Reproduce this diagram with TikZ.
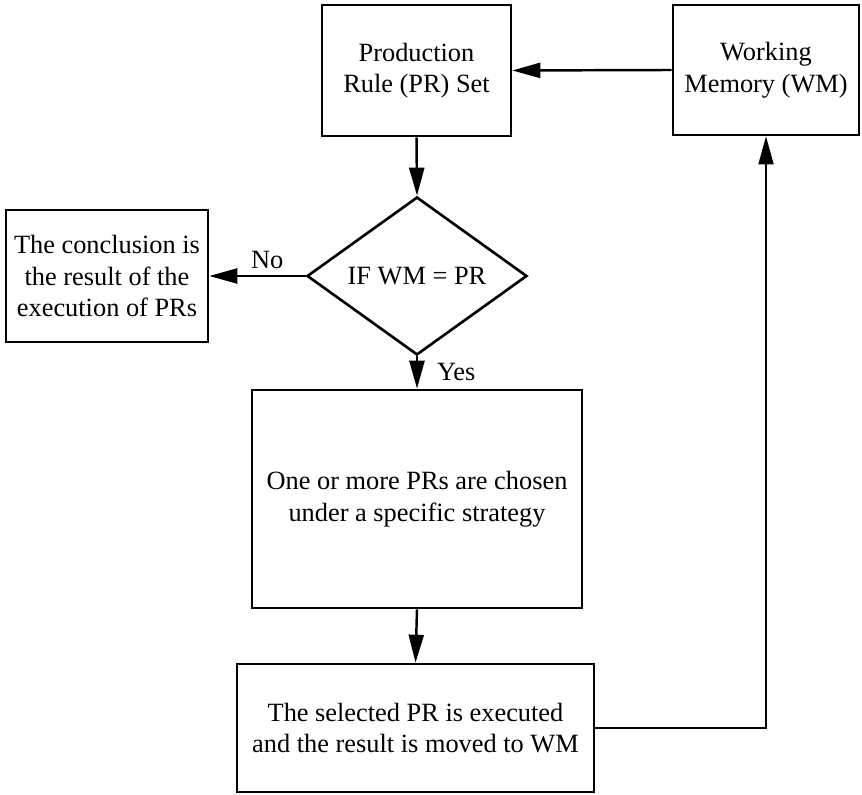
\documentclass[tikz,border=0pt]{standalone}
\usepackage{fontspec}
\setmainfont{Liberation Serif}
\usetikzlibrary{shapes.geometric,arrows.meta}

\begin{document}
\begin{tikzpicture}[
    every node/.style={font=\fontsize{15}{18}\selectfont, align=center},
    box/.style={draw=black, line width=1.5pt, inner sep=0pt},
    decision/.style={draw=black, line width=1.5pt, diamond, aspect=1.4, inner sep=0pt},
    flow/.style={line width=1.4pt},
    >={Triangle[length=0.56cm, width=0.3cm]},
]

\useasboundingbox (0,0) rectangle (17.24,15.88);

% === Top row: rule set and working memory ===
\node[box, minimum width=3.78cm, minimum height=2.62cm] (prset) at (8.33,14.47)
    {Production\\Rule (PR) Set};
\node[box, minimum width=3.72cm, minimum height=2.60cm] (wm) at (15.32,14.48)
    {Working\\Memory (WM)};

% === Matching test and its outcomes ===
\node[decision, minimum width=4.40cm, minimum height=3.16cm] (test) at (8.34,10.36)
    {IF WM = PR};
\node[box, minimum width=4.04cm, minimum height=2.64cm] (concl) at (2.14,10.36)
    {The conclusion is\\the result of the\\execution of PRs};

% === Selection and execution ===
\node[box, minimum width=6.60cm, minimum height=4.36cm] (choose) at (8.34,5.90)
    {One or more PRs are chosen\\under a specific strategy};
\node[box, minimum width=7.14cm, minimum height=2.56cm] (exec) at (8.31,1.32)
    {The selected PR is executed\\and the result is moved to WM};

% === Connectors ===
\draw[flow, ->] (wm.west) -- (prset.east);
\draw[flow, ->] (prset.south) -- (test.north);
\draw[flow, ->] (test.west) -- node[above, pos=0.4] {No} (concl.east);
\draw[flow, ->] (test.south) -- node[right=0.26cm] {Yes} (choose.north);
\draw[flow, ->] (choose.south) -- (exec.north);
% feedback to memory
\draw[line width=1pt, ->] (exec.east) -| (wm.south);

\end{tikzpicture}
\end{document}
